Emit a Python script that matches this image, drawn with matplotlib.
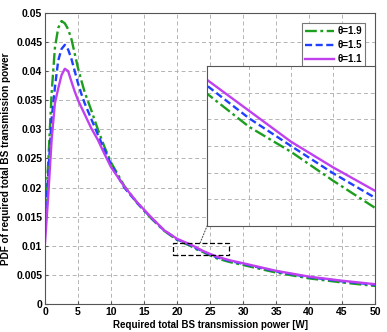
import matplotlib
matplotlib.use("Agg")
import matplotlib.pyplot as plt
from matplotlib.patches import Rectangle, ConnectionPatch
from matplotlib.ticker import FuncFormatter, MultipleLocator

# values
power_w = [0, 0.5, 1, 1.5, 2, 2.5, 3, 3.5, 4, 4.5, 5, 5.5, 6, 7, 8, 9, 10,
           12, 14, 16, 18, 20, 22, 23, 24, 25, 26, 28, 30, 35, 40, 45, 50]
pdf_theta_19 = [0.0150, 0.0245, 0.0362, 0.0440, 0.0474, 0.0486, 0.0482, 0.0472,
                0.0455, 0.0430, 0.0405, 0.0384, 0.0364, 0.0333, 0.0300, 0.0270,
                0.0243, 0.0203, 0.0173, 0.0148, 0.0126, 0.0110, 0.00998, 0.00936,
                0.00889, 0.00835, 0.00784, 0.0072, 0.0067, 0.0054, 0.0044,
                0.0037, 0.0031]
pdf_theta_15 = [0.0128, 0.0225, 0.0318, 0.0372, 0.0418, 0.0438, 0.0445, 0.0437,
                0.0421, 0.0400, 0.0379, 0.0361, 0.0345, 0.0318, 0.0291, 0.0265,
                0.0240, 0.0200, 0.0173, 0.0149, 0.0127, 0.0111, 0.01013, 0.00952,
                0.0090, 0.00849, 0.00803, 0.0074, 0.0069, 0.0056, 0.0046,
                0.0039, 0.0033]
pdf_theta_11 = [0.0105, 0.0188, 0.0282, 0.0345, 0.0370, 0.0393, 0.0404, 0.0400,
                0.0382, 0.0365, 0.0350, 0.0338, 0.0326, 0.0302, 0.0282, 0.0258,
                0.0235, 0.0202, 0.0174, 0.0150, 0.0127, 0.0112, 0.01024, 0.00966,
                0.00908, 0.0086, 0.00816, 0.0075, 0.0070, 0.0057, 0.0047,
                0.0040, 0.0034]
labels = ["θ=1.9", "θ=1.5", "θ=1.1"]

plt.rcParams['font.family'] = ['Liberation Sans', 'DejaVu Sans']
plt.rcParams['font.weight'] = 'bold'
plt.rcParams['font.size'] = 7.5

green = '#1e9e1e'
blue = '#2040ff'
purple = '#c040f0'
grid_kw = dict(color='#b4b4b4', linestyle=(0, (4, 3)), linewidth=0.7)


def draw_curves(ax):
    ax.plot(power_w, pdf_theta_19, color=green, lw=1.7,
            dashes=(5, 1.5, 1.2, 1.5), label=labels[0])
    ax.plot(power_w, pdf_theta_15, color=blue, lw=1.7,
            dashes=(3, 1.5), label=labels[1])
    ax.plot(power_w, pdf_theta_11, color=purple, lw=1.7, label=labels[2])


fig = plt.figure(figsize=(3.87, 3.32), dpi=100)
ax = fig.add_axes([0.1163, 0.0843, 0.853, 0.877])
draw_curves(ax)
ax.set_xlim(0, 50)
ax.set_ylim(0, 0.05)
ax.xaxis.set_major_locator(MultipleLocator(5))
ax.yaxis.set_major_locator(MultipleLocator(0.005))
ax.yaxis.set_major_formatter(FuncFormatter(lambda v, p: '%g' % round(v, 4)))
ax.grid(True, **grid_kw)
ax.tick_params(direction='in', length=2.5, pad=2, labelsize=7.5, color='#555555')
for s in ax.spines.values():
    s.set_color('#555555')
    s.set_linewidth(0.8)
ax.set_xlabel("Required total BS transmission power [W]", fontweight='bold',
              fontsize=7, labelpad=2)
ax.set_ylabel("PDF of required total BS transmission power", fontweight='bold',
              fontsize=7.2, labelpad=4)

leg = ax.legend(loc='upper right', bbox_to_anchor=(0.985, 0.982), fontsize=7,
                handlelength=3.0, handletextpad=0.3, borderpad=0.35,
                labelspacing=0.4, fancybox=False, framealpha=1)
leg.get_frame().set_edgecolor('#777777')
leg.get_frame().set_linewidth(0.8)

# zoom box in the main axes
ax.add_patch(Rectangle((19.4, 0.0084), 8.5, 0.0021, fill=False, edgecolor='black',
                       linestyle=(0, (4, 2)), linewidth=0.9, zorder=5))

# magnified inset
ins = fig.add_axes([0.535, 0.3193, 0.434, 0.482])
draw_curves(ins)
ins.set_xlim(22, 26)
ins.set_ylim(0.0075, 0.0105)
ins.xaxis.set_major_locator(MultipleLocator(1))
ins.yaxis.set_major_locator(MultipleLocator(0.0005))
ins.grid(True, **grid_kw)
ins.tick_params(left=False, bottom=False, labelleft=False, labelbottom=False)
for s in ins.spines.values():
    s.set_color('#555555')
    s.set_linewidth(0.8)

con = ConnectionPatch(xyA=(23.5, 0.0105), coordsA=ax.transData,
                      xyB=(0, 0), coordsB=ins.transAxes,
                      linestyle=':', color='#555555', linewidth=0.8)
fig.add_artist(con)

fig.savefig("out.png", dpi=100)
